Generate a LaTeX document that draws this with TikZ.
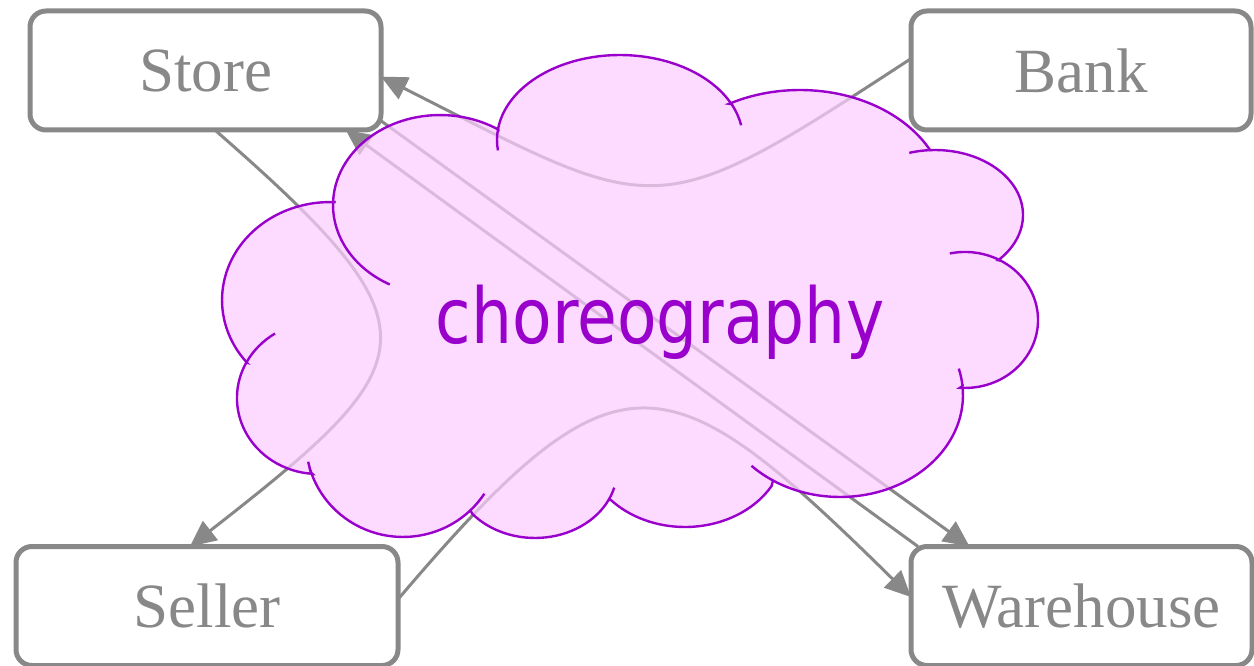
\documentclass[tikz,border=0pt]{standalone}
\usepackage{fontspec}
\setmainfont{Liberation Serif}
\newfontfamily\cloudfont[FakeStretch=0.84]{DejaVu Sans}
\usetikzlibrary{arrows.meta}

\definecolor{boxgray}{HTML}{888888}
\definecolor{cloudline}{HTML}{9900CC}
\definecolor{cloudfill}{HTML}{FCCCFF}

\tikzset{
    party/.style={draw=boxgray, line width=2.5pt, rounded corners=8pt, fill=white,
        text=boxgray, font=\fontsize{31.5}{36}\selectfont,
        minimum height=59.5pt, inner sep=0pt, outer sep=0pt},
    msg/.style={draw=boxgray, line width=1.5pt, -{Triangle[length=13pt, width=12pt]}},
    puff/.style={draw=cloudline, line width=1.2pt},
}

\begin{document}
\begin{tikzpicture}[x=0.5pt, y=0.5pt]
    \useasboundingbox (0,0) rectangle (1254,665);

    \node[party, minimum width=175.5pt] (store) at (205.5, 594.5) {Store};
    \node[party, minimum width=170pt] (bank) at (1081, 594.5) {Bank};
    \node[party, minimum width=191pt] (seller) at (207, 59) {Seller};
    \node[party, minimum width=170.5pt] (warehouse) at (1081.5, 59) {Warehouse};

    \draw[msg] (bank.176) .. controls (652, 437) and (660, 447) .. (store.-2);
    \draw[msg] (store.-81) .. controls (444, 335) and (429, 305) .. (seller.106);
    \draw[msg] (seller.2) .. controls (619, 326) and (666, 309) .. (warehouse.177);
    \draw[msg] (store.-16.5) -- (warehouse.152);
    \draw[msg] (warehouse.160) -- (store.-23);

    % the cloud: one elliptic arc per puff
    \path[puff, fill=cloudfill, fill opacity=0.72]
        (333.1, 463.1) arc[start angle=178, end angle=57, x radius=107, y radius=90]
        -- (498.2, 536.8) arc[start angle=172, end angle=25, x radius=123, y radius=85]
        -- (729.2, 561.2) arc[start angle=119, end angle=27, x radius=146, y radius=110]
        -- (930.4, 514.9) arc[start angle=93, end angle=-44, x radius=88, y radius=65]
        -- (1000.4, 404.5) arc[start angle=61, end angle=-94, x radius=73, y radius=68]
        -- (962.5, 278.9) arc[start angle=5, end angle=-123, x radius=123, y radius=102]
        -- (771.6, 179) arc[start angle=-30, end angle=-138, x radius=100, y radius=82]
        -- (608.7, 165.2) arc[start angle=-26, end angle=-140, x radius=82, y radius=68]
        -- (470.4, 154.7) arc[start angle=-46, end angle=-161, x radius=97, y radius=95]
        -- (312.3, 191.2) arc[start angle=-94, end angle=-208, x radius=81, y radius=76]
        -- (246.7, 302.6) arc[start angle=219.5, end angle=87, x radius=108, y radius=98]
        -- cycle;
    % inner creases
    \draw[puff]
        (333.1, 463.1) arc[start angle=178, end angle=242, x radius=107, y radius=90]
        (498.2, 536.8) arc[start angle=172, end angle=187, x radius=123, y radius=85]
        (731.5, 560.9) arc[start angle=25, end angle=10, x radius=123, y radius=85]
        (930.4, 514.9) arc[start angle=93, end angle=107, x radius=88, y radius=65]
        (1000.4, 404.5) arc[start angle=61, end angle=102, x radius=73, y radius=68]
        (962.5, 278.9) arc[start angle=5, end angle=15, x radius=123, y radius=102]
        (773, 184.5) arc[start angle=-123, end angle=-136, x radius=123, y radius=102]
        (608.7, 165.2) arc[start angle=-26, end angle=-15, x radius=82, y radius=68]
        (470.4, 154.7) arc[start angle=-46, end angle=-33, x radius=97, y radius=95]
        (311.3, 192.1) arc[start angle=-161, end angle=-168, x radius=97, y radius=95]
        (246.5, 302.7) arc[start angle=152, end angle=122, x radius=81, y radius=76];

    \node[text=cloudline, font=\cloudfont\fontsize{38.5}{44}\selectfont, anchor=base, inner sep=0pt]
        (chor) at (660, 321) {choreography};
\end{tikzpicture}
\end{document}
